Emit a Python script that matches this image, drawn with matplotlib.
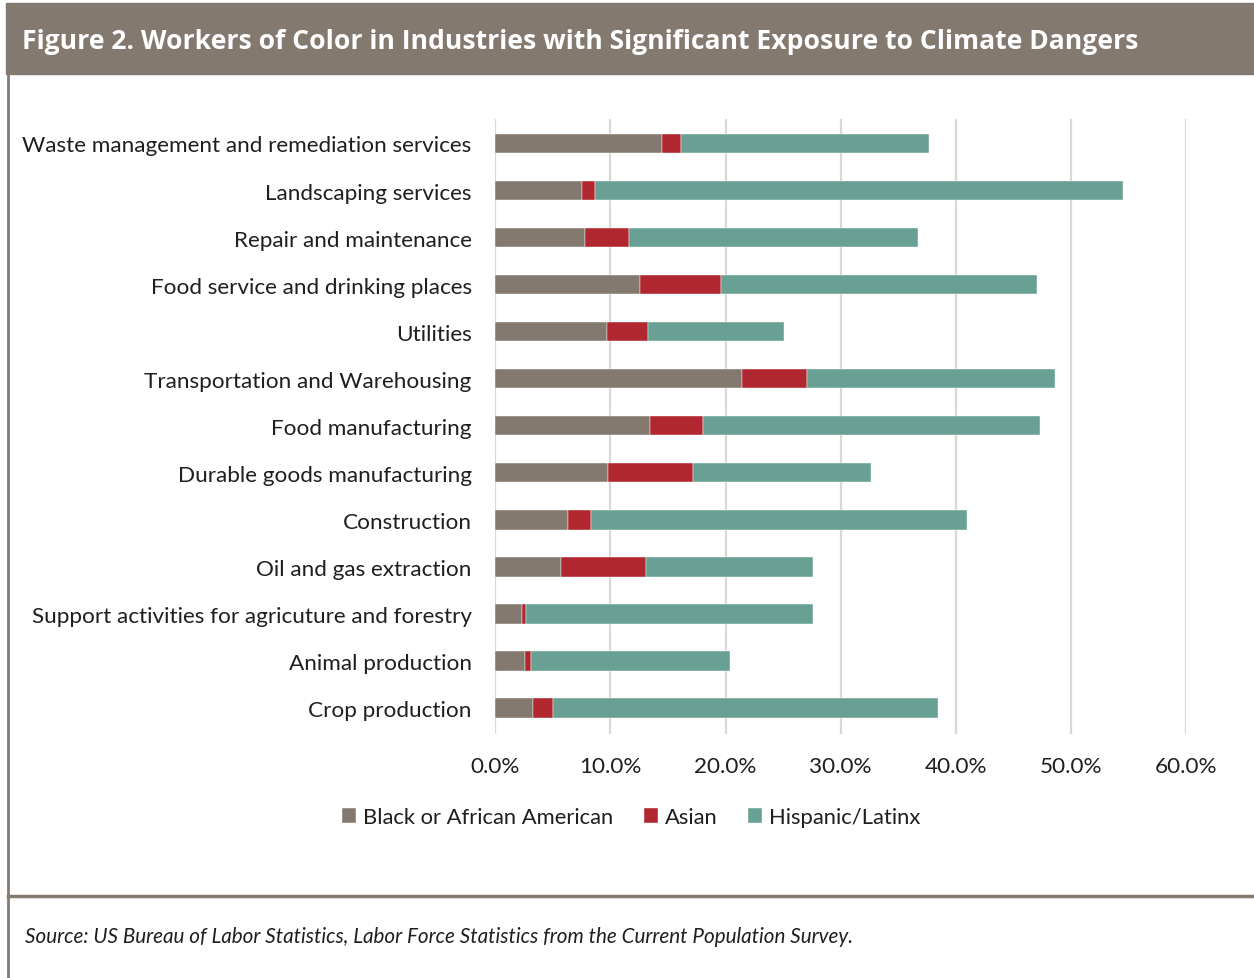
import matplotlib
matplotlib.use('Agg')
import matplotlib.pyplot as plt
from matplotlib.lines import Line2D
from matplotlib.patches import Rectangle
from matplotlib.ticker import FuncFormatter, MultipleLocator
import numpy as np

plt.rcParams['font.family'] = ['Lato', 'DejaVu Sans']

# industries, top to bottom
industries = [
    'Waste management and remediation services',
    'Landscaping services',
    'Repair and maintenance',
    'Food service and drinking places',
    'Utilities',
    'Transportation and Warehousing',
    'Food manufacturing',
    'Durable goods manufacturing',
    'Construction',
    'Oil and gas extraction',
    'Support activities for agricuture and forestry',
    'Animal production',
    'Crop production',
]

# share of workers in each group, percent
black = [14.5, 7.5, 7.8, 12.6, 9.7, 21.4, 13.4, 9.8, 6.3, 5.7, 2.3, 2.6, 3.3]
asian = [1.6, 1.2, 3.8, 7.0, 3.6, 5.7, 4.6, 7.4, 2.0, 7.4, 0.4, 0.5, 1.7]
hispanic = [21.6, 45.8, 25.1, 27.5, 11.8, 21.5, 29.3, 15.4, 32.7, 14.5, 24.9, 17.3, 33.5]

series_names = ['Black or African American', 'Asian', 'Hispanic/Latinx']
series_colors = ['#84796F', '#B0272F', '#68A193']
frame_color = '#84796F'
text_color = '#1F1F1F'

W, H = 1254, 979
fig = plt.figure(figsize=(W / 100, H / 100), dpi=100)

# header band with title
fig.patches.append(Rectangle((6 / W, 1 - 75 / H), 1 - 6 / W, 71 / H,
                             transform=fig.transFigure, color=frame_color, zorder=0))
fig.text(22 / W, 1 - 42 / H,
         'Figure 2. Workers of Color in Industries with Significant Exposure to Climate Dangers',
         color='white', fontsize=19.1, fontweight='bold', family=['Open Sans', 'DejaVu Sans'],
         va='center', ha='left')

# frame lines
fig.add_artist(Line2D([7.5 / W, 7.5 / W], [0, 1 - 75 / H], transform=fig.transFigure,
                      color=frame_color, lw=2))
fig.add_artist(Line2D([7.5 / W, 1], [1 - 897 / H, 1 - 897 / H], transform=fig.transFigure,
                      color=frame_color, lw=2.5))

ax = fig.add_axes([495.3 / W, 1 - 735 / H, (1186 - 495.3) / W, (735 - 120) / H])

y = np.arange(len(industries))
left = np.zeros(len(industries))
for vals, name, col in zip([black, asian, hispanic], series_names, series_colors):
    vals = np.array(vals) / 100
    ax.barh(y, vals, left=left, height=0.41, color=col, label=name, zorder=3,
            edgecolor='white', linewidth=0.3)
    left += vals

ax.set_xlim(0, 0.6)
ax.set_ylim(len(industries) - 0.45, -0.52)
ax.xaxis.set_major_locator(MultipleLocator(0.1))
ax.xaxis.set_major_formatter(FuncFormatter(lambda v, p: f'{v * 100:.1f}%'))
ax.set_yticks(y)
ax.set_yticklabels(industries)
ax.grid(axis='x', color='#DAD7D4', lw=1.6, zorder=0)
for s in ax.spines.values():
    s.set_visible(False)
ax.tick_params(axis='both', length=0, labelsize=16.2, colors=text_color)
ax.tick_params(axis='y', pad=17)
ax.tick_params(axis='x', pad=16)

handles, labels = ax.get_legend_handles_labels()
fig.legend(handles, labels, loc='center', bbox_to_anchor=(631 / W, 1 - 818 / H), ncol=3,
           frameon=False, fontsize=15.8, handlelength=0.65, handleheight=0.65,
           handletextpad=0.3, columnspacing=1.4, labelcolor=text_color)

fig.text(25 / W, 1 - 937 / H,
         'Source: US Bureau of Labor Statistics, Labor Force Statistics from the Current Population Survey.',
         fontsize=14.9, style='italic', color=text_color, va='center', ha='left')

fig.savefig('out.png', dpi=100)
